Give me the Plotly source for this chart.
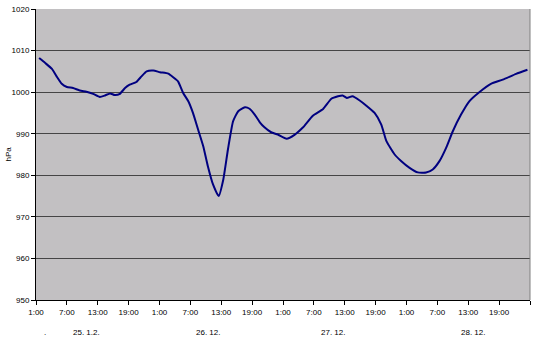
import plotly.graph_objects as go

# hours since 25.12. 1:00
hours = [0.6, 1.8, 3.1, 4.0, 5.0, 6.0, 7.2, 8.5, 9.8, 11.1, 12.4, 13.4, 14.4, 15.3, 16.3,
         17.3, 18.2, 19.5, 20.5, 21.5, 22.8, 24.1, 25.7, 26.6, 27.6, 28.6, 29.6, 30.5,
         31.5, 32.5, 33.4, 34.4, 35.5, 36.4, 37.3, 38.3, 39.3, 40.6, 41.5, 42.5, 43.5,
         44.4, 45.7, 47.0, 48.7, 50.3, 51.9, 53.8, 55.8, 57.4, 58.7, 59.6, 60.4, 61.5,
         62.9, 64.2, 65.8, 67.1, 68.1, 69.7, 71.0, 72.6, 74.2, 75.8, 77.1, 78.4, 79.7,
         81.0, 82.6, 84.2, 86.2, 88.4, 90.7, 93.3, 95.5]
pressure = [1008.2, 1007.0, 1005.6, 1003.8, 1002.0, 1001.25, 1001.0, 1000.4, 1000.1, 999.6,
            998.85, 999.2, 999.7, 999.3, 999.6, 1001.0, 1001.8, 1002.45, 1003.8, 1005.0,
            1005.2, 1004.8, 1004.45, 1003.65, 1002.6, 999.8, 997.8, 995.0, 991.0, 987.0,
            982.2, 977.8, 975.0, 979.0, 986.2, 993.0, 995.4, 996.35, 996.0, 994.6, 992.75,
            991.55, 990.35, 989.8, 988.8, 989.8, 991.55, 994.35, 995.96, 998.4, 999.0,
            999.2, 998.6, 999.0, 998.0, 996.75, 995.0, 992.2, 988.2, 985.0, 983.4, 981.8,
            980.7, 980.65, 981.4, 983.4, 986.6, 990.6, 994.6, 997.8, 1000.05, 1002.0,
            1003.0, 1004.4, 1005.4]

tick_hours = list(range(0, 97, 6))
tick_labels = ["1:00", "7:00", "13:00", "19:00"] * 4 + [""]
y_ticks = list(range(950, 1021, 10))

day_labels = [".", "25. 1.2.", "26. 12.", "27. 12.", "28. 12."]
day_label_hours = [1.75, 9.9, 33.4, 57.7, 84.9]

fig = go.Figure()
fig.add_trace(go.Scatter(x=hours, y=pressure, mode="lines",
                         line=dict(color="#000080", width=2, shape="spline", smoothing=0.5),
                         hoverinfo="skip"))

font = dict(family="Liberation Sans, Arial, sans-serif", size=8, color="#000000")

fig.update_layout(
    width=544, height=345,
    margin=dict(l=36, r=14, t=9, b=45, autoexpand=False),
    paper_bgcolor="#FFFFFF", plot_bgcolor="#C2C0C2",
    showlegend=False, font=font,
    xaxis=dict(range=[0, 96], tickmode="array", tickvals=tick_hours, ticktext=tick_labels,
               showgrid=False, zeroline=False, showline=True, linecolor="#000000", linewidth=1,
               ticks="outside", ticklen=4, tickcolor="#000000", tickfont=font,
               automargin=False),
    yaxis=dict(range=[950, 1020], tickmode="array", tickvals=y_ticks,
               showgrid=True, gridcolor="#454545", gridwidth=1, zeroline=False,
               showline=True, linecolor="#000000", linewidth=1,
               ticks="outside", ticklen=4, tickcolor="#000000", tickfont=font,
               automargin=False),
)

fig.add_shape(type="line", xref="paper", yref="paper", x0=1, x1=1, y0=0, y1=1,
              line=dict(color="#808080", width=1))

for lab, h in zip(day_labels, day_label_hours):
    fig.add_annotation(x=h, y=-0.1116, xref="x", yref="paper", text=lab, showarrow=False,
                       xanchor="center", yanchor="middle", font=font)

fig.add_annotation(x=-0.0566, y=0.5, xref="paper", yref="paper", text="hPa", textangle=-90,
                   showarrow=False, xanchor="center", yanchor="middle", font=font)

fig.write_html("out.html")
